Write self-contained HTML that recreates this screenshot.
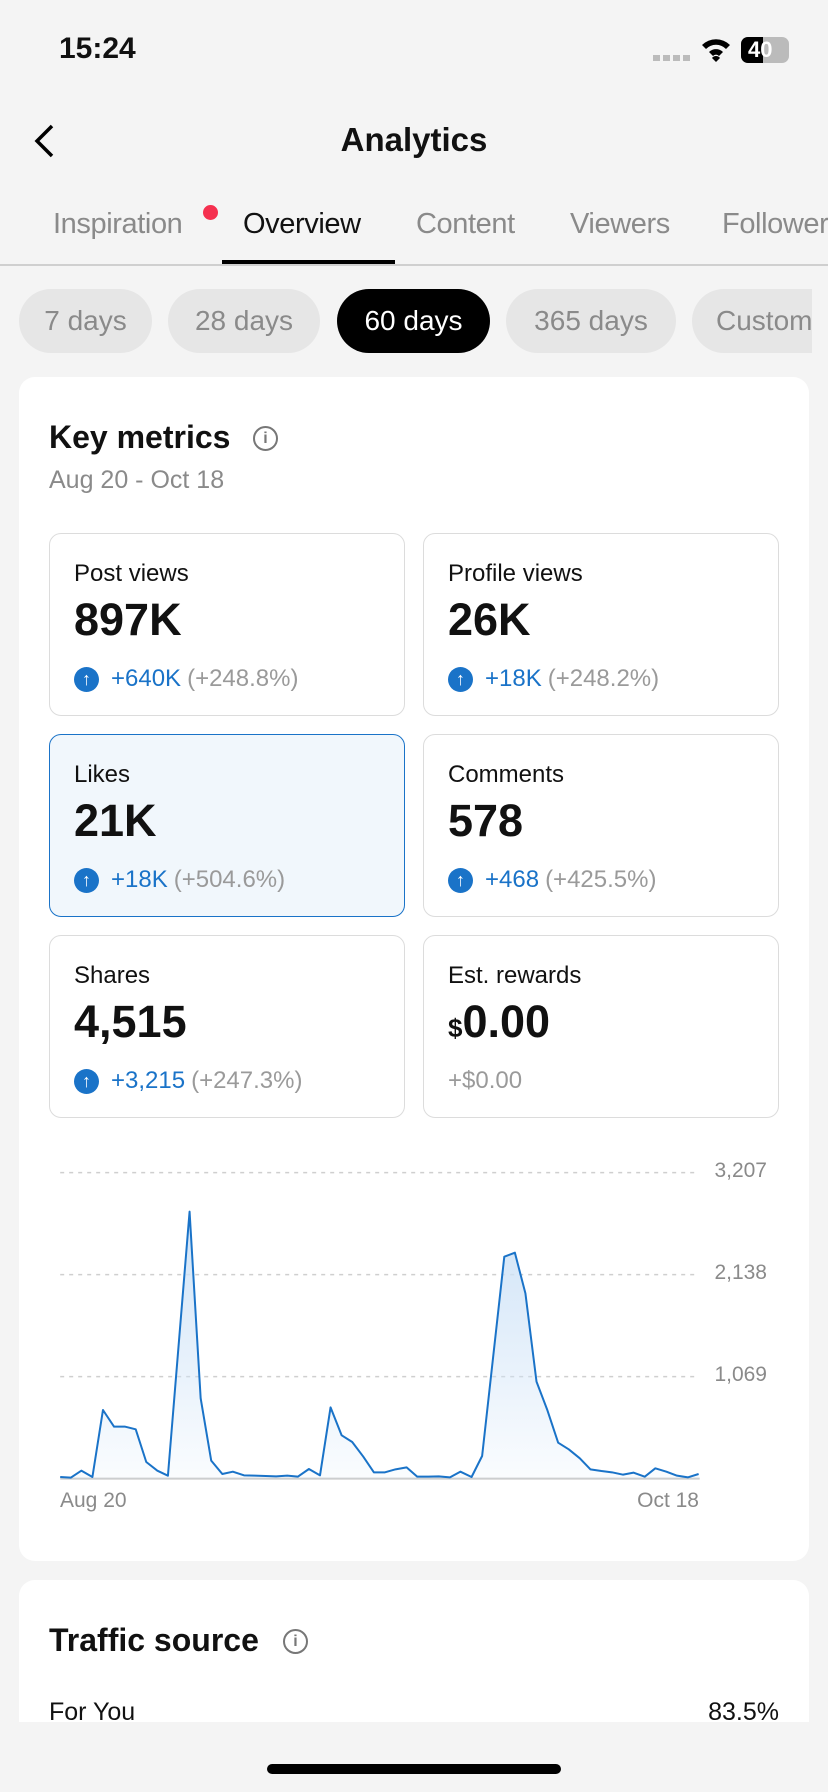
<!DOCTYPE html>
<html><head><meta charset="utf-8"><style>
*{margin:0;padding:0;box-sizing:border-box}
body{width:828px;height:1792px;background:#f4f4f4;font-family:"Liberation Sans",sans-serif;position:relative;overflow:hidden;color:#111}
.a{position:absolute;white-space:nowrap}
.tab{position:absolute;top:206px;font-size:29px;color:#8a8a8a;line-height:36px;letter-spacing:-0.4px}
.pill{position:absolute;top:289px;height:64px;border-radius:32px;background:#e6e6e6;color:#8a8a8a;font-size:28px;line-height:64px;text-align:center}
.card{position:absolute;left:19px;width:790px;background:#fff;border-radius:16px}
.box{position:absolute;width:356px;height:183px;border:1.5px solid #dcdcdc;border-radius:12px;background:#fff}
.box .l{position:absolute;left:24px;top:26px;font-size:24px;color:#111}
.box .v{position:absolute;left:24px;top:60px;font-size:45px;font-weight:bold;color:#111}
.box .c{position:absolute;left:24px;top:131px;font-size:24px;color:#1a73c8;display:flex;align-items:center}
.box .c i{display:inline-block;width:25px;height:25px;border-radius:50%;background:#1a73c8;color:#fff;font-style:normal;font-size:18px;line-height:25px;text-align:center;margin-right:12px;font-weight:bold}
.box .c span{color:#9a9a9a;margin-left:6px}
.yl{position:absolute;right:61px;font-size:21px;color:#8a8a8a}
</style></head><body>
<div class="a" style="left:59px;top:32px;font-size:30px;font-weight:bold">15:24</div>
<div class="a" style="left:653px;top:55px;width:37px;height:6px;background:repeating-linear-gradient(90deg,#bbb 0 7px,transparent 7px 10px)"></div>
<svg class="a" style="left:700px;top:36px" width="32" height="26" viewBox="0 0 32 26"><path d="M2 9 A20 20 0 0 1 30 9 L26 13 A14 14 0 0 0 6 13 Z M9 16 A10 10 0 0 1 23 16 L19 20 A4 4 0 0 0 13 20 Z M16 26 L12 22 A5 5 0 0 1 20 22 Z" fill="#000"/></svg>
<div class="a" style="left:741px;top:37px;width:48px;height:26px;border-radius:7px;background:#bbb;overflow:hidden"><div style="width:22px;height:26px;background:#000"></div><div style="position:absolute;left:7px;top:0;font-size:22px;font-weight:bold;color:#fff;line-height:26px">40</div></div>
<svg class="a" style="left:32px;top:124px" width="24" height="34"><path d="M20 2 L5 17 L20 32" stroke="#000" stroke-width="3.5" fill="none"/></svg>
<div class="a" style="left:0;width:828px;text-align:center;top:121px;font-size:33px;font-weight:bold">Analytics</div>
<div class="tab" style="left:53px">Inspiration</div>
<div class="a" style="left:203px;top:205px;width:15px;height:15px;border-radius:50%;background:#f5304f"></div>
<div class="tab" style="left:243px;color:#111">Overview</div>
<div class="tab" style="left:416px">Content</div>
<div class="tab" style="left:570px">Viewers</div>
<div class="tab" style="left:722px">Followers</div>
<div class="a" style="left:222px;top:260px;width:173px;height:4px;background:#000"></div>
<div class="a" style="left:0;top:264px;width:828px;height:1.5px;background:#cfcfcf"></div>
<div class="pill" style="left:19px;width:133px">7 days</div>
<div class="pill" style="left:168px;width:152px">28 days</div>
<div class="pill" style="left:337px;width:153px;background:#000;color:#fff">60 days</div>
<div class="pill" style="left:506px;width:170px">365 days</div>
<div style="position:absolute;left:692px;top:289px;width:120px;height:64px;overflow:hidden"><div class="pill" style="left:0;top:0;width:160px;text-align:left;padding-left:24px">Custom</div></div>
<div class="card" style="top:377px;height:1184px">
<div class="a" style="left:30px;top:42px;font-size:32px;font-weight:bold">Key metrics</div>
<div class="a" style="left:234px;top:49px;width:25px;height:25px;border:2px solid #777;border-radius:50%;font-size:16px;line-height:21px;text-align:center;color:#777;font-weight:bold">i</div>
<div class="a" style="left:30px;top:89px;font-size:25px;color:#8a8a8a">Aug 20 - Oct 18</div>
<div class="box" style="left:30px;top:156px"><div class="l">Post views</div><div class="v">897K</div><div class="c"><i>↑</i>+640K<span>(+248.8%)</span></div></div>
<div class="box" style="left:404px;top:156px"><div class="l">Profile views</div><div class="v">26K</div><div class="c"><i>↑</i>+18K<span>(+248.2%)</span></div></div>
<div class="box" style="left:30px;top:357px;background:#f1f7fc;border-color:#1a73c8"><div class="l">Likes</div><div class="v">21K</div><div class="c"><i>↑</i>+18K<span>(+504.6%)</span></div></div>
<div class="box" style="left:404px;top:357px"><div class="l">Comments</div><div class="v">578</div><div class="c"><i>↑</i>+468<span>(+425.5%)</span></div></div>
<div class="box" style="left:30px;top:558px"><div class="l">Shares</div><div class="v">4,515</div><div class="c"><i>↑</i>+3,215<span>(+247.3%)</span></div></div>
<div class="box" style="left:404px;top:558px"><div class="l">Est. rewards</div><div class="v"><span style="font-size:26px">$</span>0.00</div><div class="c" style="color:#9a9a9a">+$0.00</div></div>
</div>
<svg class="a" style="left:0;top:1120px" width="828" height="400" viewBox="0 0 1568 1200" preserveAspectRatio="none">
<defs><linearGradient id="g" x1="0" y1="0" x2="0" y2="1"><stop offset="0" stop-color="#cfe3f7"/><stop offset="1" stop-color="#cfe3f7" stop-opacity="0.1"/></linearGradient></defs>
<g stroke="#cfcfcf" stroke-width="1.5" stroke-dasharray="4 5">
<line x1="114" y1="158" x2="1315" y2="158" vector-effect="non-scaling-stroke"/><line x1="114" y1="464" x2="1315" y2="464" vector-effect="non-scaling-stroke"/><line x1="114" y1="770" x2="1315" y2="770" vector-effect="non-scaling-stroke"/></g>
<line x1="114" y1="1076" x2="1325" y2="1076" stroke="#ccc" stroke-width="2" vector-effect="non-scaling-stroke"/>
<path d="M114,1076 L114,1071 134,1073 154,1052 175,1071 195,870 216,920 237,920 257,928 277,1026 298,1052 318,1067 359,275 380,835 400,1022 421,1062 441,1055 462,1066 482,1067 503,1068 523,1069 544,1067 564,1070 585,1047 606,1066 626,862 647,946 667,966 688,1010 708,1057 729,1057 749,1048 770,1042 790,1070 811,1070 831,1069 852,1072 872,1055 893,1071 913,1008 955,410 975,398 995,520 1016,785 1036,868 1057,968 1077,988 1098,1015 1118,1048 1139,1053 1159,1057 1180,1064 1200,1058 1221,1070 1241,1045 1262,1055 1282,1067 1303,1072 1323,1062 L1323,1076 Z" fill="url(#g)"/>
<polyline fill="none" stroke="#1a73c8" stroke-width="2" vector-effect="non-scaling-stroke" stroke-linejoin="round" points="114,1071 134,1073 154,1052 175,1071 195,870 216,920 237,920 257,928 277,1026 298,1052 318,1067 359,275 380,835 400,1022 421,1062 441,1055 462,1066 482,1067 503,1068 523,1069 544,1067 564,1070 585,1047 606,1066 626,862 647,946 667,966 688,1010 708,1057 729,1057 749,1048 770,1042 790,1070 811,1070 831,1069 852,1072 872,1055 893,1071 913,1008 955,410 975,398 995,520 1016,785 1036,868 1057,968 1077,988 1098,1015 1118,1048 1139,1053 1159,1057 1180,1064 1200,1058 1221,1070 1241,1045 1262,1055 1282,1067 1303,1072 1323,1062"/>
</svg>
<div class="yl" style="top:1159px">3,207</div>
<div class="yl" style="top:1261px">2,138</div>
<div class="yl" style="top:1363px">1,069</div>
<div class="a" style="left:60px;top:1489px;font-size:21px;color:#8a8a8a">Aug 20</div>
<div class="a" style="right:129px;top:1489px;font-size:21px;color:#8a8a8a">Oct 18</div>
<div class="card" style="top:1580px;height:142px;border-radius:16px 16px 0 0">
<div class="a" style="left:30px;top:42px;font-size:32px;font-weight:bold">Traffic source</div>
<div class="a" style="left:264px;top:49px;width:25px;height:25px;border:2px solid #777;border-radius:50%;font-size:16px;line-height:21px;text-align:center;color:#777;font-weight:bold">i</div>
<div class="a" style="left:30px;top:118px;font-size:25px">For You</div>
<div class="a" style="right:30px;top:118px;font-size:25px">83.5%</div>
</div>
<div class="a" style="left:0;top:1722px;width:828px;height:70px;background:#f4f4f4"></div>
<div class="a" style="left:267px;top:1764px;width:294px;height:10px;border-radius:5px;background:#000"></div>
</body></html>
